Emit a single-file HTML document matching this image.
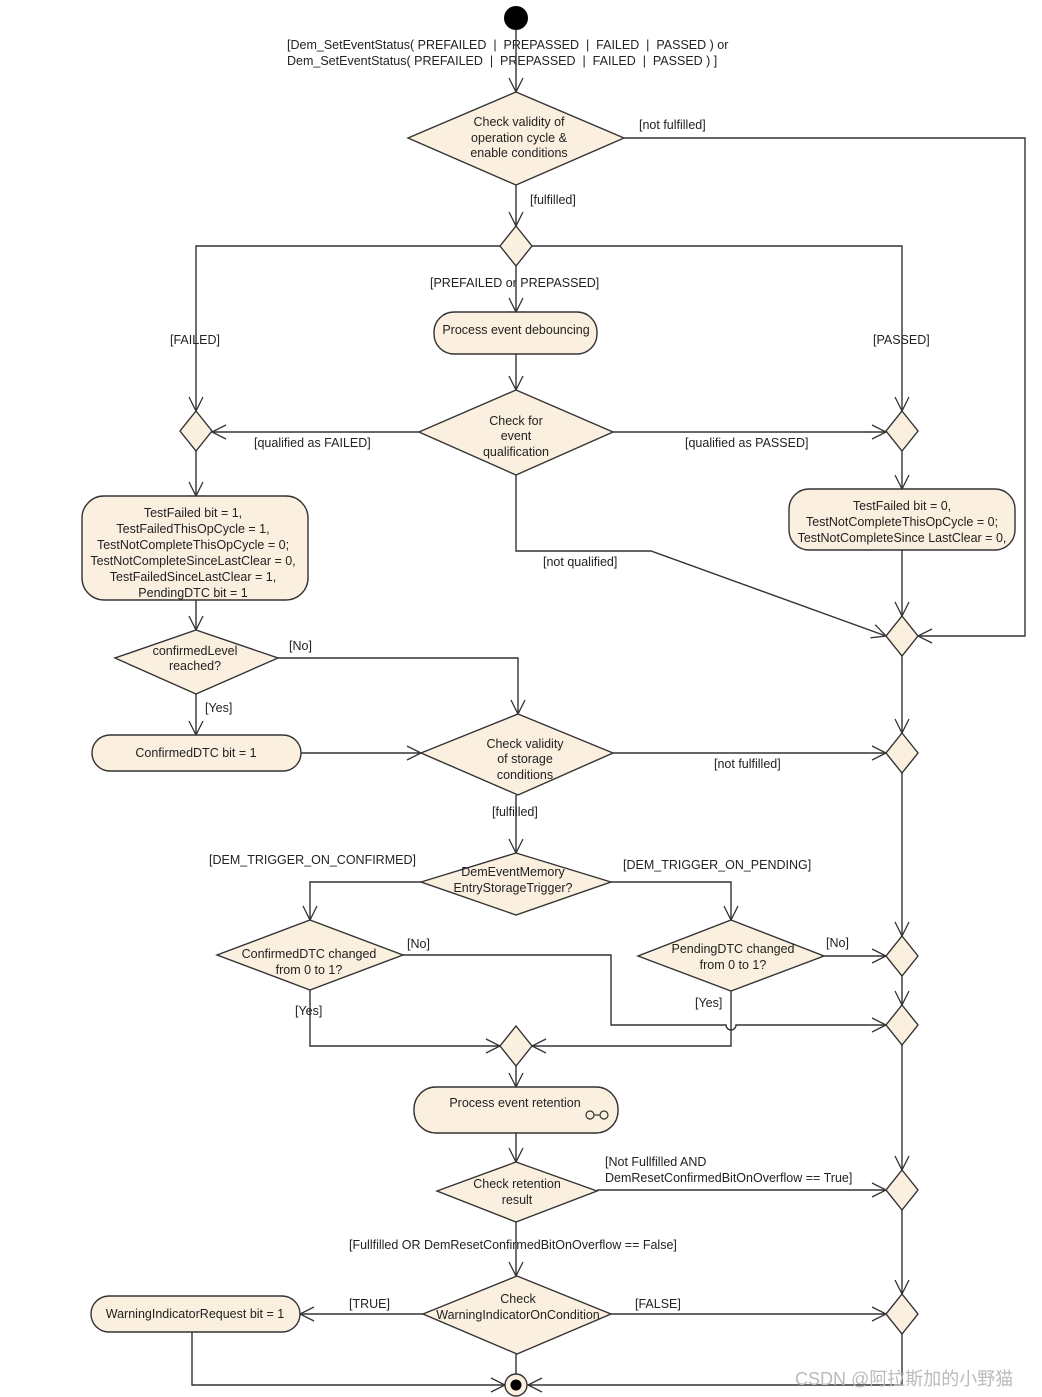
<!DOCTYPE html>
<html><head><meta charset="utf-8"><style>
html,body{margin:0;padding:0;background:#fff}
svg{display:block}
text{font-family:"Liberation Sans",Arial,sans-serif;font-size:12.5px;fill:#222}
.c{text-anchor:middle}
.pre{white-space:pre}
.s{fill:#fbf0df;stroke:#333;stroke-width:1.4}
.l{fill:none;stroke:#333;stroke-width:1.4}
</style></head><body>
<svg width="1042" height="1397" viewBox="0 0 1042 1397" xmlns="http://www.w3.org/2000/svg">
<defs>
<marker id="a" markerUnits="userSpaceOnUse" markerWidth="20" markerHeight="20" refX="15" refY="8" orient="auto">
<path d="M1,1 L15,8 L1,15" fill="none" stroke="#333" stroke-width="1.3"/>
</marker>
</defs>
<circle cx="516" cy="18" r="12" fill="#000"/>
<text class="pre" x="287" y="49">[Dem_SetEventStatus( PREFAILED  |  PREPASSED  |  FAILED  |  PASSED ) or</text>
<text class="pre" x="287" y="65">Dem_SetEventStatus( PREFAILED  |  PREPASSED  |  FAILED  |  PASSED ) ]</text>
<path class="l" d="M516,30 V92" marker-end="url(#a)"/>

<polygon class="s" points="516,92 624,138 516,185 408,138"/>
<text class="c" x="519" y="126">Check validity of</text>
<text class="c" x="519" y="142">operation cycle &amp;</text>
<text class="c" x="519" y="157">enable conditions</text>
<text x="639" y="129">[not fulfilled]</text>
<path class="l" d="M624,138 H1025 V636 H918" marker-end="url(#a)"/>
<path class="l" d="M516,185 V226" marker-end="url(#a)"/>
<text x="530" y="204">[fulfilled]</text>

<path class="l" d="M500,246 H196 V411" marker-end="url(#a)"/>
<path class="l" d="M532,246 H902 V411" marker-end="url(#a)"/>
<polygon class="s" points="516,226 532,246 516,266 500,246"/>
<text x="170" y="344">[FAILED]</text>
<text x="873" y="344">[PASSED]</text>
<text x="430" y="287">[PREFAILED or PREPASSED]</text>
<path class="l" d="M516,266 V312" marker-end="url(#a)"/>
<rect class="s" x="434" y="312" width="163" height="42" rx="20"/>
<text class="c" x="516" y="334">Process event debouncing</text>
<path class="l" d="M516,354 V390" marker-end="url(#a)"/>

<polygon class="s" points="516,390 613,432 516,475 419,432"/>
<text class="c" x="516" y="425">Check for</text>
<text class="c" x="516" y="440">event</text>
<text class="c" x="516" y="456">qualification</text>
<path class="l" d="M419,432 H212" marker-end="url(#a)"/>
<text x="254" y="447">[qualified as FAILED]</text>
<path class="l" d="M613,432 H886" marker-end="url(#a)"/>
<text x="685" y="447">[qualified as PASSED]</text>
<path class="l" d="M516,475 V551 H651 L886,636" marker-end="url(#a)"/>
<text x="543" y="566">[not qualified]</text>

<polygon class="s" points="196,411 212,431 196,451 180,431"/>
<polygon class="s" points="902,411 918,431 902,451 886,431"/>
<path class="l" d="M196,451 V496" marker-end="url(#a)"/>
<path class="l" d="M902,451 V489" marker-end="url(#a)"/>

<rect class="s" x="82" y="496" width="226" height="104" rx="22"/>
<text class="c" x="193" y="517">TestFailed bit = 1,</text>
<text class="c" x="193" y="533">TestFailedThisOpCycle = 1,</text>
<text class="c" x="193" y="549">TestNotCompleteThisOpCycle = 0;</text>
<text class="c" x="193" y="565">TestNotCompleteSinceLastClear = 0,</text>
<text class="c" x="193" y="581">TestFailedSinceLastClear = 1,</text>
<text class="c" x="193" y="597">PendingDTC bit = 1</text>

<rect class="s" x="789" y="489" width="226" height="61" rx="20"/>
<text class="c" x="902" y="510">TestFailed bit = 0,</text>
<text class="c" x="902" y="526">TestNotCompleteThisOpCycle = 0;</text>
<text class="c" x="902" y="542">TestNotCompleteSince LastClear = 0,</text>
<path class="l" d="M902,550 V616" marker-end="url(#a)"/>
<polygon class="s" points="902,616 918,636 902,656 886,636"/>
<path class="l" d="M902,656 V733" marker-end="url(#a)"/>

<path class="l" d="M196,600 V630" marker-end="url(#a)"/>
<polygon class="s" points="196,630 278,658 196,694 115,658"/>
<text class="c" x="195" y="655">confirmedLevel</text>
<text class="c" x="195" y="670">reached?</text>
<path class="l" d="M278,658 H518 V714" marker-end="url(#a)"/>
<text x="289" y="650">[No]</text>
<path class="l" d="M196,694 V735" marker-end="url(#a)"/>
<text x="205" y="712">[Yes]</text>
<rect class="s" x="92" y="735" width="209" height="36" rx="18"/>
<text class="c" x="196" y="757">ConfirmedDTC bit = 1</text>
<path class="l" d="M301,753 H421" marker-end="url(#a)"/>

<polygon class="s" points="518,714 613,753 518,795 421,753"/>
<text class="c" x="525" y="748">Check validity</text>
<text class="c" x="525" y="763">of storage</text>
<text class="c" x="525" y="779">conditions</text>
<path class="l" d="M613,753 H886" marker-end="url(#a)"/>
<text x="714" y="768">[not fulfilled]</text>
<polygon class="s" points="902,733 918,753 902,773 886,753"/>
<path class="l" d="M902,773 V936" marker-end="url(#a)"/>
<path class="l" d="M516,795 V853" marker-end="url(#a)"/>
<text x="492" y="816">[fulfilled]</text>

<polygon class="s" points="516,853 611,882 516,915 421,882"/>
<text class="c" x="513" y="876">DemEventMemory</text>
<text class="c" x="513" y="892">EntryStorageTrigger?</text>
<path class="l" d="M421,882 H310 V920" marker-end="url(#a)"/>
<text x="209" y="864">[DEM_TRIGGER_ON_CONFIRMED]</text>
<path class="l" d="M611,882 H731 V920" marker-end="url(#a)"/>
<text x="623" y="869">[DEM_TRIGGER_ON_PENDING]</text>

<polygon class="s" points="310,920 403,955 310,990 217,955"/>
<text class="c" x="309" y="958">ConfirmedDTC changed</text>
<text class="c" x="309" y="974">from 0 to 1?</text>
<path class="l" d="M403,955 H611 V1025 H726 A5,5 0 0 0 736,1025 H886" marker-end="url(#a)"/>
<text x="407" y="948">[No]</text>
<path class="l" d="M310,990 V1046 H500" marker-end="url(#a)"/>
<text x="295" y="1015">[Yes]</text>

<polygon class="s" points="731,920 824,956 731,991 638,956"/>
<text class="c" x="733" y="953">PendingDTC changed</text>
<text class="c" x="733" y="969">from 0 to 1?</text>
<path class="l" d="M824,956 H886" marker-end="url(#a)"/>
<text x="826" y="947">[No]</text>
<path class="l" d="M731,991 V1046 H532" marker-end="url(#a)"/>
<text x="695" y="1007">[Yes]</text>

<polygon class="s" points="902,936 918,956 902,976 886,956"/>
<path class="l" d="M902,976 V1005" marker-end="url(#a)"/>
<polygon class="s" points="902,1005 918,1025 902,1045 886,1025"/>
<path class="l" d="M902,1045 V1170" marker-end="url(#a)"/>

<polygon class="s" points="516,1026 532,1046 516,1066 500,1046"/>
<path class="l" d="M516,1066 V1087" marker-end="url(#a)"/>
<rect class="s" x="414" y="1087" width="204" height="46" rx="22"/>
<text class="c" x="515" y="1107">Process event retention</text>
<circle cx="590" cy="1115" r="4" fill="none" stroke="#333" stroke-width="1.2"/>
<circle cx="604" cy="1115" r="4" fill="none" stroke="#333" stroke-width="1.2"/>
<line x1="594" y1="1115" x2="600" y2="1115" stroke="#333" stroke-width="1.2"/>
<path class="l" d="M516,1133 V1162" marker-end="url(#a)"/>

<polygon class="s" points="516,1162 597,1191 516,1222 437,1191"/>
<text class="c" x="517" y="1188">Check retention</text>
<text class="c" x="517" y="1204">result</text>
<path class="l" d="M597,1190 H886" marker-end="url(#a)"/>
<text x="605" y="1166">[Not Fullfilled AND</text>
<text x="605" y="1182">DemResetConfirmedBitOnOverflow == True]</text>
<polygon class="s" points="902,1170 918,1190 902,1210 886,1190"/>
<path class="l" d="M902,1210 V1294" marker-end="url(#a)"/>
<path class="l" d="M516,1222 V1276" marker-end="url(#a)"/>
<text x="349" y="1249">[Fullfilled OR DemResetConfirmedBitOnOverflow == False]</text>

<polygon class="s" points="517,1276 611,1314 517,1354 423,1314"/>
<text class="c" x="518" y="1303">Check</text>
<text class="c" x="518" y="1319">WarningIndicatorOnCondition</text>
<path class="l" d="M423,1314 H300" marker-end="url(#a)"/>
<text x="349" y="1308">[TRUE]</text>
<path class="l" d="M611,1314 H886" marker-end="url(#a)"/>
<text x="635" y="1308">[FALSE]</text>
<rect class="s" x="91" y="1296" width="209" height="36" rx="18"/>
<text class="c" x="195" y="1318">WarningIndicatorRequest bit = 1</text>
<polygon class="s" points="902,1294 918,1314 902,1334 886,1314"/>
<path class="l" d="M902,1334 V1385 H528" marker-end="url(#a)"/>
<path class="l" d="M192,1332 V1385 H505" marker-end="url(#a)"/>
<path class="l" d="M516,1354 V1374"/>

<circle cx="516" cy="1385" r="11" fill="#fbf0df" stroke="#333" stroke-width="1.4"/>
<circle cx="516" cy="1385" r="5.5" fill="#000"/>

<text x="795" y="1385" style="font-size:18px;fill:#bbb;font-family:'Liberation Sans','Noto Sans CJK SC',sans-serif">CSDN @阿拉斯加的小野猫</text>
</svg>
</body></html>
